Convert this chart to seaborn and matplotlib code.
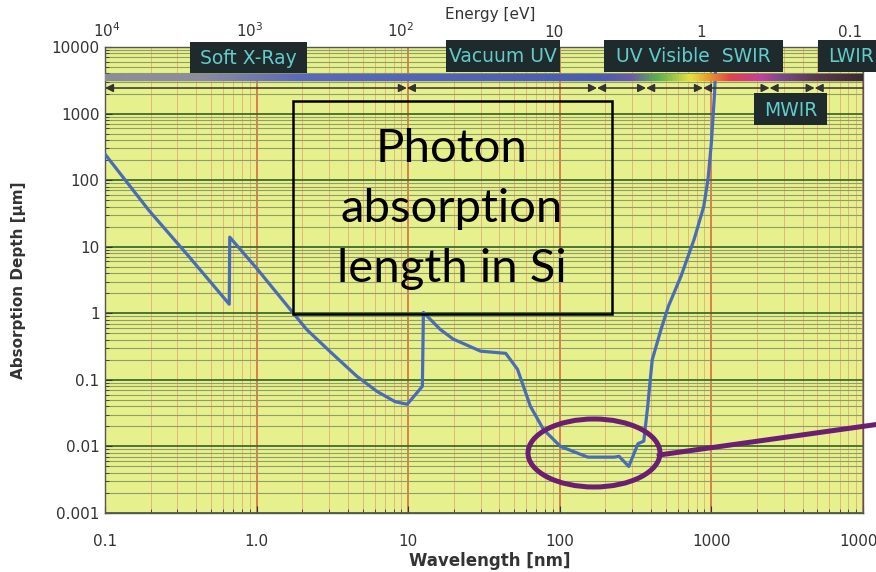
import numpy as np
import pandas as pd
import matplotlib
matplotlib.use("Agg")
import matplotlib.pyplot as plt
import seaborn as sns
from matplotlib.patches import Rectangle, Ellipse
from matplotlib.lines import Line2D
from matplotlib.transforms import blended_transform_factory
from matplotlib.ticker import LogLocator, NullFormatter, FixedLocator, FixedFormatter

# ---------------- data ----------------
wavelength_nm = [0.1, 0.195, 0.36, 0.66, 0.665, 1.0, 1.73, 2.14, 3.19, 4.59, 6.23, 8.2, 9.85,
                 10.8, 12.4, 12.6, 16.3, 19.8, 30, 44, 52.6, 64, 78, 101, 153, 228, 246, 285,
                 328, 358, 380, 407, 465, 520, 630, 770, 890, 950, 1000, 1050, 1080]
depth_um = [246, 35, 7.0, 1.37, 13.9, 4.75, 1.03, 0.57, 0.242, 0.113, 0.067, 0.047, 0.043,
            0.055, 0.08, 1.03, 0.57, 0.41, 0.27, 0.25, 0.144, 0.04, 0.018, 0.010, 0.0069, 0.0069,
            0.0071, 0.0050, 0.011, 0.012, 0.04, 0.2, 0.57, 1.27, 3.6, 13, 40, 103, 370, 2100, 10000]

x_ticks = [0.1, 1, 10, 100, 1000, 10000]
x_ticklabels = ["0.1", "1.0", "10", "100", "1000", "10000"]
y_ticks = [0.001, 0.01, 0.1, 1, 10, 100, 1000, 10000]
y_ticklabels = ["0.001", "0.01", "0.1", "1", "10", "100", "1000", "10000"]

energy_labels = [r"$10^4$", r"$10^3$", r"$10^2$", "10", "1", "0.1"]
energy_label_pos_nm = [0.103, 0.9, 8.85, 91, 856, 8200]

region_bounds_nm = [0.1, 9.8, 176, 371, 880, 2420, 4800, 10000]

band_stops_nm = [0.1, 0.42, 1.93, 186, 295, 447, 735, 995, 1350, 2150, 2900, 4800, 10000]
band_stop_colors = ["#8c8c98", "#8c8ca0", "#5a6ab8", "#4a5cb0", "#6a5aa8", "#5cb050",
                    "#e8e040", "#e89030", "#e04050", "#c040a0", "#7a4a8a", "#5a3a50", "#3a2a30"]

region_names = ["Soft X-Ray", "Vacuum UV", "UV Visible  SWIR", "LWIR", "MWIR"]

# ---------------- figure ----------------
sns.set_style("ticks")
plt.rcParams['font.family'] = ['DejaVu Sans']

W, H = 876, 572
fig = plt.figure(figsize=(W / 100, H / 100), dpi=100)
fig.patch.set_facecolor("white")

def fx(x):
    return x / W

def fy(y):
    return 1 - y / H

ax = fig.add_axes([fx(105), fy(513), 758 / W, 466 / H])
ax.set_facecolor("#e6f08c")
ax.set_xscale("log")
ax.set_yscale("log")
ax.set_xlim(0.1, 10000)
ax.set_ylim(0.001, 10000)

# grid
ax.xaxis.set_minor_locator(LogLocator(base=10, subs=np.arange(2, 10)))
ax.yaxis.set_minor_locator(LogLocator(base=10, subs=np.arange(2, 10)))
ax.xaxis.set_minor_formatter(NullFormatter())
ax.yaxis.set_minor_formatter(NullFormatter())
ax.grid(which="minor", axis="x", color="#e6b478", lw=0.7, zorder=0)
ax.grid(which="major", axis="x", color="#d8603a", lw=1.1, zorder=0)
ax.grid(which="minor", axis="y", color="#8f9e66", lw=0.8, zorder=0)
ax.grid(which="major", axis="y", color="#3f6a2c", lw=1.3, zorder=0)
ax.set_axisbelow(True)

# curve
df = pd.DataFrame({"wavelength": wavelength_nm, "depth": depth_um})
sns.lineplot(data=df, x="wavelength", y="depth", ax=ax, color="#4a6cb6", lw=2.3,
             sort=False, estimator=None, zorder=3)

ax.set_xticks(x_ticks)
ax.set_xticklabels(x_ticklabels)
ax.set_yticks(y_ticks)
ax.set_yticklabels(y_ticklabels)
ax.tick_params(axis="x", which="both", direction="in", pad=15, labelsize=11, colors="#333333")
ax.tick_params(axis="y", which="both", direction="in", pad=4, labelsize=11, colors="#333333")
ax.tick_params(which="major", length=5)
ax.tick_params(which="minor", length=3)
for s in ax.spines.values():
    s.set_color("#555555")
    s.set_linewidth(1.0)

ax.set_xlabel("Wavelength [nm]", fontsize=12, fontweight="bold", color="#333333")
ax.xaxis.set_label_coords((490 - 105) / 758, -(552 - 513) / 466)
ax.set_ylabel("Absorption Depth [\u03bcm]", fontsize=11, fontweight="bold", color="#333333")
ax.yaxis.set_label_coords(-(105 - 26) / 758, (513 - 280) / 466)

# top energy axis
top = ax.twiny()
top.set_xscale("log")
top.set_xlim(ax.get_xlim())
top.xaxis.set_major_locator(FixedLocator(energy_label_pos_nm))
top.xaxis.set_major_formatter(FixedFormatter(energy_labels))
top.xaxis.set_minor_locator(FixedLocator([]))
top.tick_params(axis="x", length=0, pad=5, labelsize=11, colors="#333333")
for s in top.spines.values():
    s.set_visible(False)
fig.text(fx(490), fy(15), "Energy [eV]", ha="center", va="center", fontsize=11,
         color="#333333")

# colour band
trans = blended_transform_factory(ax.transData, ax.transAxes)
lam = np.logspace(-1, 4, 500)
logstops = np.log10(band_stops_nm)
rgb = np.array([matplotlib.colors.to_rgb(c) for c in band_stop_colors])
for l0, l1 in zip(lam[:-1], lam[1:]):
    lm = np.log10(np.sqrt(l0 * l1))
    col = [np.interp(lm, logstops, rgb[:, k]) for k in range(3)]
    ax.add_patch(Rectangle((l0, 0.927), l1 - l0, 0.016, transform=trans,
                           facecolor=col, edgecolor=col, lw=0.3, zorder=5))

# region arrows
yarr = 0.912
for i, (a, b) in enumerate(zip(region_bounds_nm[:-1], region_bounds_nm[1:])):
    style = "<|-|>" if i < len(region_bounds_nm) - 2 else "<|-"
    ax.annotate("", xy=(b, yarr), xytext=(a, yarr), xycoords=trans, textcoords=trans,
                arrowprops=dict(arrowstyle=style, color="#333333", lw=1.1,
                                shrinkA=0, shrinkB=0, mutation_scale=12), zorder=5)

# dark region label boxes (pixel positions from the reference)
boxes = [(190, 42, 307, 73), (446, 40, 560, 72), (604, 40, 783, 72), (818, 40, 890, 72),
         (754, 93, 827, 125)]
for name, (x0, y0, x1, y1) in zip(region_names, boxes):
    fig.add_artist(Rectangle((fx(x0), fy(y1)), fx(x1) - fx(x0), fy(y0) - fy(y1),
                             transform=fig.transFigure, facecolor="#1e2a2c",
                             edgecolor="none", zorder=6))
    cx = (x0 + min(x1, 876) + (8 if name == "LWIR" else 0)) / 2
    fig.text(fx(cx), fy((y0 + y1) / 2 + 1), name, ha="center", va="center",
             fontsize=13.5, color="#62cccc", zorder=7)

# annotation box
fig.add_artist(Rectangle((fx(293), fy(314)), fx(612) - fx(293), fy(101) - fy(314),
                         transform=fig.transFigure, facecolor="none",
                         edgecolor="black", lw=1.8, zorder=6))
fig.text(fx(452), fy(209), "Photon\nabsorption\nlength in Si", ha="center", va="center",
         fontsize=34, family=["Lato", "DejaVu Sans"], color="black", linespacing=1.52,
         zorder=7)

# purple ellipse + pointer line
fig.add_artist(Ellipse((fx(594), fy(453)), 132 / W, 68 / H, transform=fig.transFigure,
                       facecolor="none", edgecolor="#6b1f72", lw=3.6, zorder=8))
fig.add_artist(Line2D([fx(659), fx(880)], [fy(455), fy(424)], transform=fig.transFigure,
                      color="#6b1f72", lw=3.6, zorder=8))

fig.savefig("out.png", dpi=100)
